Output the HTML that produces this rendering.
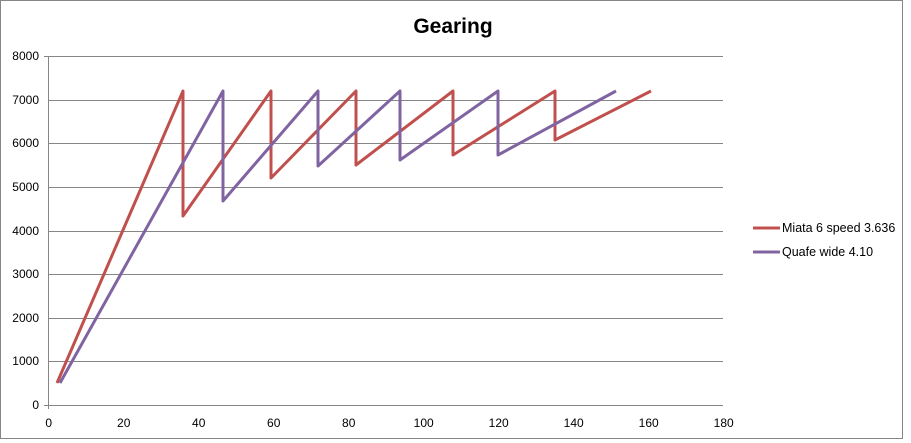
<!DOCTYPE html>
<html><head><style>body{margin:0;background:#fff}svg{display:block}</style></head><body>
<svg width="911" height="443" xmlns="http://www.w3.org/2000/svg" font-family="Liberation Sans, sans-serif">
<rect x="0.5" y="0.5" width="902" height="438" fill="#fff" stroke="#868686"/>
<text x="453" y="33" text-anchor="middle" font-size="21" font-weight="bold">Gearing</text>
<g stroke="#868686" stroke-width="1">
<line x1="48.5" y1="56.5" x2="723" y2="56.5"/>
<line x1="48.5" y1="100.5" x2="723" y2="100.5"/>
<line x1="48.5" y1="143.5" x2="723" y2="143.5"/>
<line x1="48.5" y1="187.5" x2="723" y2="187.5"/>
<line x1="48.5" y1="231.5" x2="723" y2="231.5"/>
<line x1="48.5" y1="274.5" x2="723" y2="274.5"/>
<line x1="48.5" y1="318.5" x2="723" y2="318.5"/>
<line x1="48.5" y1="361.5" x2="723" y2="361.5"/>
<line x1="44" y1="405.5" x2="723" y2="405.5"/>
<line x1="48.5" y1="56" x2="48.5" y2="409"/>
<line x1="44" y1="56.5" x2="48" y2="56.5"/>
</g>
<g font-size="12" text-anchor="end" fill="#000">
<text x="39" y="60">8000</text><text x="39" y="104">7000</text><text x="39" y="147">6000</text><text x="39" y="191">5000</text><text x="39" y="235">4000</text><text x="39" y="278">3000</text><text x="39" y="322">2000</text><text x="39" y="365">1000</text><text x="39" y="409">0</text>
</g>
<g font-size="12" text-anchor="middle" fill="#000">
<text x="48.7" y="427">0</text><text x="123.7" y="427">20</text><text x="198.7" y="427">40</text><text x="273.7" y="427">60</text><text x="348.7" y="427">80</text><text x="423.7" y="427">100</text><text x="498.7" y="427">120</text><text x="573.7" y="427">140</text><text x="648.7" y="427">160</text><text x="723.7" y="427">180</text>
</g>
<polyline fill="none" stroke="#c0504d" stroke-width="3" stroke-linejoin="round" points="57,383 183,91 183,216 271,91 271,178 356,91 356,165 453,91 453,155 555,91 555,140 651,91"/>
<polyline fill="none" stroke="#8064a2" stroke-width="3" stroke-linejoin="round" points="60,383 223,91 223,201 318,91 318,166 400,91 400,160 498,91 498,155 616,91"/>
<line x1="753" y1="228" x2="780" y2="228" stroke="#c0504d" stroke-width="3"/>
<line x1="753" y1="252" x2="780" y2="252" stroke="#8064a2" stroke-width="3"/>
<g font-size="12.5" fill="#000"><text x="782" y="232">Miata 6 speed 3.636</text><text x="782" y="256">Quafe wide 4.10</text></g>
</svg>
</body></html>
